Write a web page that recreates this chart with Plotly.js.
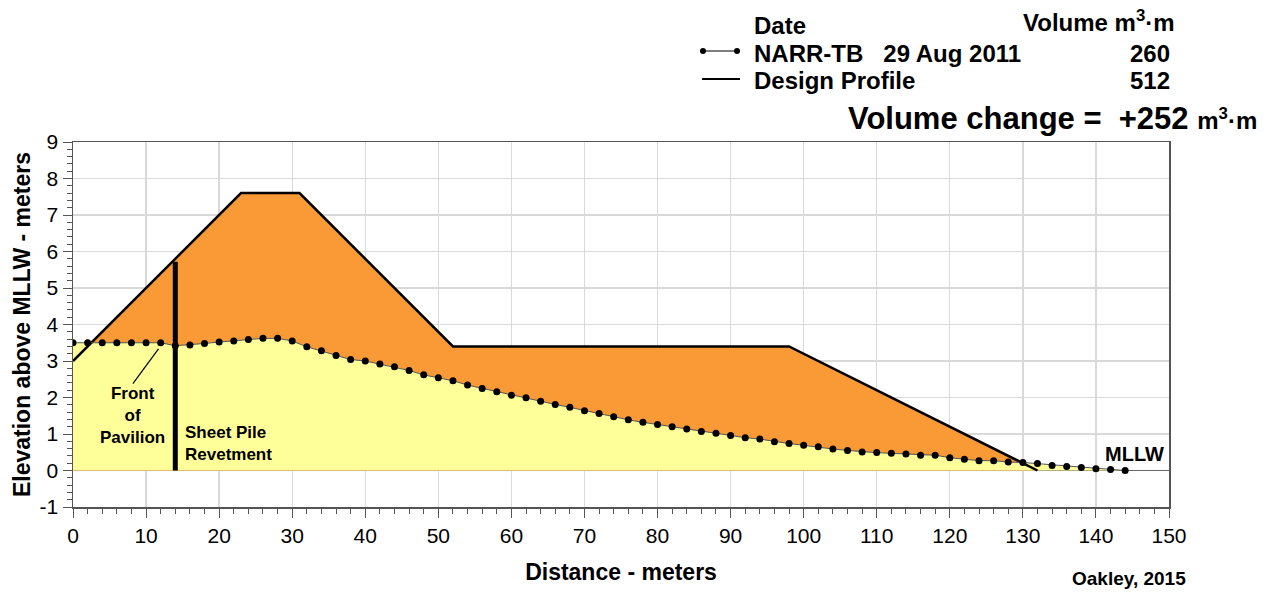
<!DOCTYPE html>
<html>
<head>
<meta charset="utf-8">
<script src="https://cdn.plot.ly/plotly-3.0.1.min.js"></script>
<style>
  html, body { margin: 0; padding: 0; background: #fff; }
  #chart { width: 1270px; height: 594px; }
</style>
</head>
<body>
<div id="chart"></div>
<script>
// ---- Data ----
var surveyName = "NARR-TB";
var surveyDate = "29 Aug 2011";
var surveyVolume = "260";
var designName = "Design Profile";
var designVolume = "512";
var volumeChange = "+252";

var surveyX = [0, 2, 4, 6, 8, 10, 12, 14, 16, 18, 20, 22, 24, 26, 28, 30, 32, 34, 36, 38,
  40, 42, 44, 46, 48, 50, 52, 54, 56, 58, 60, 62, 64, 66, 68, 70, 72, 74, 76, 78,
  80, 82, 84, 86, 88, 90, 92, 94, 96, 98, 100, 102, 104, 106, 108, 110, 112, 114, 116, 118,
  120, 122, 124, 126, 128, 130, 132, 134, 136, 138, 140, 142, 144];
var surveyY = [3.50, 3.50, 3.50, 3.50, 3.50, 3.50, 3.50, 3.42, 3.44, 3.48, 3.52, 3.55, 3.59, 3.62, 3.62, 3.55, 3.39, 3.28, 3.15, 3.04,
  3.00, 2.92, 2.84, 2.74, 2.62, 2.54, 2.46, 2.34, 2.25, 2.16, 2.06, 1.99, 1.90, 1.81, 1.73, 1.64, 1.56, 1.47, 1.39, 1.32,
  1.26, 1.20, 1.14, 1.07, 1.02, 0.96, 0.90, 0.86, 0.79, 0.74, 0.69, 0.65, 0.59, 0.55, 0.51, 0.49, 0.47, 0.45, 0.42, 0.42,
  0.35, 0.31, 0.27, 0.27, 0.23, 0.22, 0.19, 0.14, 0.11, 0.08, 0.05, 0.03, 0.00];

var designX = [0, 23, 31, 52, 98, 132];
var designY = [3.0, 7.6, 7.6, 3.4, 3.4, 0];

var sheetPileX = [14, 14];
var sheetPileY = [0, 5.72];

var pavilionLeaderX = [11.7, 8.2];
var pavilionLeaderY = [3.33, 2.38];

var xTickVals = [0, 10, 20, 30, 40, 50, 60, 70, 80, 90, 100, 110, 120, 130, 140, 150];
var yTickVals = [-1, 0, 1, 2, 3, 4, 5, 6, 7, 8, 9];
var yTickText = ["-1", "0", "1", "2", "3", "4", "5", "6", "7", "8", "9"];

// ---- Traces ----
var FONT = "Liberation Sans, Arial, sans-serif";
var traces = [
  { x: designX, y: designY, type: "scatter", mode: "none", fill: "tozeroy",
    fillcolor: "#F99A37", hoverinfo: "skip", showlegend: false },
  { x: surveyX, y: surveyY, type: "scatter", mode: "none", fill: "tozeroy",
    fillcolor: "#FFFF99", hoverinfo: "skip", showlegend: false },
  { x: designX, y: designY, type: "scatter", mode: "lines",
    line: { color: "#000", width: 2.5 }, showlegend: false },
  { x: surveyX, y: surveyY, type: "scatter", mode: "lines+markers",
    line: { color: "#555", width: 1 }, marker: { color: "#000", size: 7 }, showlegend: false },
  { x: sheetPileX, y: sheetPileY, type: "scatter", mode: "lines",
    line: { color: "#000", width: 5 }, showlegend: false },
  { x: pavilionLeaderX, y: pavilionLeaderY, type: "scatter", mode: "lines",
    line: { color: "#000", width: 1.2 }, showlegend: false, hoverinfo: "skip" }
];

// pixel -> paper helpers for header text (plot area 73..1169 x 142..507)
function px(p) { return (p - 73) / 1096; }
function py(p) { return (507 - p) / 365; }

var bold = function (s) { return { family: FONT, size: s, color: "#000", weight: 700 }; };

var annotations = [
  { text: "<b>Date</b>", xref: "paper", yref: "paper", x: px(752), y: py(25), xanchor: "left", yanchor: "middle", showarrow: false, font: bold(24) },
  { text: "<b>Volume m<sup>3</sup>·m</b>", xref: "paper", yref: "paper", x: px(1177), y: py(21), xanchor: "right", yanchor: "middle", showarrow: false, font: bold(24) },
  { text: "<b>" + surveyName + "   " + surveyDate + "</b>", xref: "paper", yref: "paper", x: px(752), y: py(53), xanchor: "left", yanchor: "middle", showarrow: false, font: bold(24) },
  { text: "<b>" + surveyVolume + "</b>", xref: "paper", yref: "paper", x: px(1150), y: py(53), xanchor: "center", yanchor: "middle", showarrow: false, font: bold(24) },
  { text: "<b>" + designName + "</b>", xref: "paper", yref: "paper", x: px(752), y: py(81), xanchor: "left", yanchor: "middle", showarrow: false, font: bold(24) },
  { text: "<b>" + designVolume + "</b>", xref: "paper", yref: "paper", x: px(1150), y: py(81), xanchor: "center", yanchor: "middle", showarrow: false, font: bold(24) },
  { text: "<b>Volume change =  " + volumeChange + " <span style='font-size:24px'>m<sup>3</sup>·m</span></b>", xref: "paper", yref: "paper", x: px(846), y: py(119), xanchor: "left", yanchor: "middle", showarrow: false, font: bold(31) },
  { text: "<b>Oakley, 2015</b>", xref: "paper", yref: "paper", x: px(1188), y: py(578), xanchor: "right", yanchor: "middle", showarrow: false, font: bold(19) },
  { text: "<b>MLLW</b>", xref: "x", yref: "y", x: 145.3, y: 0.44, xanchor: "center", yanchor: "middle", showarrow: false, font: bold(20) },
  { text: "<b>Front<br>of<br>Pavilion</b>", xref: "x", yref: "y", x: 8.2, y: 1.5, xanchor: "center", yanchor: "middle", align: "center", showarrow: false, font: bold(17) },
  { text: "<b>Sheet Pile<br>Revetment</b>", xref: "x", yref: "y", x: 15.0, y: 0.74, xanchor: "left", yanchor: "middle", align: "left", showarrow: false, font: bold(17) }
];

// legend samples (drawn in paper coordinates)
var shapes = [
  { type: "line", xref: "paper", yref: "paper", x0: px(703), x1: px(737), y0: py(51), y1: py(51), line: { color: "#555", width: 1.5 } },
  { type: "circle", xref: "paper", yref: "paper", x0: px(700), x1: px(706), y0: py(48), y1: py(54), fillcolor: "#000", line: { width: 0 } },
  { type: "circle", xref: "paper", yref: "paper", x0: px(734), x1: px(740), y0: py(48), y1: py(54), fillcolor: "#000", line: { width: 0 } },
  { type: "line", xref: "paper", yref: "paper", x0: px(702), x1: px(740), y0: py(79), y1: py(79), line: { color: "#000", width: 2 } }
];

var layout = {
  width: 1270, height: 594,
  margin: { l: 73, r: 101, t: 142, b: 87, pad: 0 },
  paper_bgcolor: "#fff", plot_bgcolor: "#fff",
  showlegend: false,
  font: { family: FONT, size: 21, color: "#000" },
  xaxis: {
    range: [0, 150], tickvals: xTickVals, ticks: "outside", ticklen: 9, tickcolor: "#555", tickwidth: 1,
    showline: true, linecolor: "#555", linewidth: 1.5, mirror: true,
    showgrid: true, gridcolor: "#d9d9d9", gridwidth: 1.3, zeroline: false,
    tickfont: { family: FONT, size: 21, color: "#000" },
    minor: { dtick: 2, ticks: "outside", ticklen: 5, tickcolor: "#555", showgrid: false },
    title: { text: "<b>Distance - meters</b>", font: { family: FONT, size: 23, color: "#000" }, standoff: 18 },
    automargin: false, fixedrange: true
  },
  yaxis: {
    range: [-1, 9], tickvals: yTickVals, ticktext: yTickText, ticks: "outside", ticklen: 9, tickcolor: "#555", tickwidth: 1,
    showline: true, linecolor: "#555", linewidth: 1.5, mirror: true,
    showgrid: true, gridcolor: "#d9d9d9", gridwidth: 1.3,
    zeroline: true, zerolinecolor: "#666", zerolinewidth: 1.3,
    tickfont: { family: FONT, size: 21, color: "#000" },
    minor: { dtick: 0.2, ticks: "outside", ticklen: 5, tickcolor: "#555", showgrid: false },
    title: { text: "<b>Elevation above MLLW - meters</b>", font: { family: FONT, size: 23, color: "#000" }, standoff: 2 },
    automargin: false, fixedrange: true
  },
  annotations: annotations,
  shapes: shapes
};

Plotly.newPlot("chart", traces, layout, { displayModeBar: false, staticPlot: true });
</script>
</body>
</html>
